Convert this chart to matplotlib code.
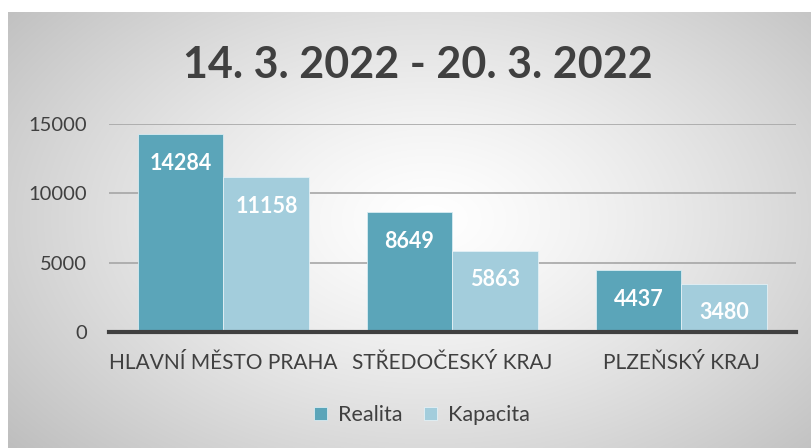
import numpy as np
import matplotlib
matplotlib.use("Agg")
import matplotlib.pyplot as plt

categories = ["HLAVNÍ MĚSTO PRAHA", "STŘEDOČESKÝ KRAJ", "PLZEŇSKÝ KRAJ"]
realita = [14284, 8649, 4437]
kapacita = [11158, 5863, 3480]
series_names = ["Realita", "Kapacita"]
yticks = [0, 5000, 10000, 15000]
title = "14. 3. 2022 - 20. 3. 2022"

W, H = 812, 448
plt.rcParams['font.family'] = ['Lato', 'DejaVu Sans']
fig = plt.figure(figsize=(W / 100, H / 100), dpi=100, facecolor='white')

# gradient background panel
x0, y0 = 8, 12
bg = fig.add_axes([x0 / W, 0, 1 - x0 / W, 1 - y0 / H], zorder=0)
gx = np.linspace(x0, W, 400)
gy = np.linspace(y0, H, 220)
GX, GY = np.meshgrid(gx, gy)
cx, cy, rx, ry = 430, 220, 560, 360
d = np.sqrt(((GX - cx) / rx) ** 2 + ((GY - cy) / ry) ** 2)
d = np.clip(d, 0, 1)
val = 1.0 - 0.26 * d ** 1.3
img = np.dstack([val, val, val])
bg.imshow(img, aspect='auto', extent=[0, 1, 0, 1], interpolation='bilinear')
bg.axis('off')

col_r = '#5ba5b9'
col_k = '#a3cddc'
txt = '#404040'

ax = fig.add_axes([109 / W, (H - 332) / H, 687 / W, 208 / H], zorder=1)
ax.set_facecolor('none')
x = np.arange(len(categories))
w = 0.375
b1 = ax.bar(x - w / 2, realita, width=w, color=col_r, edgecolor='#d8ecf2', linewidth=0.6, zorder=3, label=series_names[0])
b2 = ax.bar(x + w / 2, kapacita, width=w, color=col_k, edgecolor='#e4f1f6', linewidth=0.6, zorder=3, label=series_names[1])
for bars, vals in ((b1, realita), (b2, kapacita)):
    for bar, v in zip(bars, vals):
        ax.annotate(str(v), (bar.get_x() + bar.get_width() / 2, v), xytext=(0, -21),
                    textcoords='offset points', ha='center', va='center',
                    color='white', fontsize=15.5, fontweight='bold', zorder=5)

ax.set_xlim(-0.5, len(categories) - 0.5)
ax.set_ylim(0, 15000)
ax.set_yticks(yticks)
ax.set_yticklabels([str(t) for t in yticks])
ax.set_xticks(x)
ax.set_xticklabels(categories)
ax.tick_params(axis='y', length=0, pad=16, labelsize=14.5, labelcolor=txt)
ax.tick_params(axis='x', length=0, pad=15, labelsize=15, labelcolor=txt)
for s in ['top', 'right', 'left']:
    ax.spines[s].set_visible(False)
ax.spines['bottom'].set_color('#404040')
ax.spines['bottom'].set_linewidth(3)
ax.spines['bottom'].set_zorder(4)
ax.yaxis.grid(True, color='#a6a6a6', linewidth=1.2, zorder=0)
ax.set_axisbelow(True)

fig.text(417.5 / W, 1 - 65 / H, title,
         ha='center', va='center', fontsize=31, fontweight='bold', color=txt)

leg = fig.legend(handles=[b1, b2], labels=series_names, loc='center',
                 bbox_to_anchor=(422 / W, 1 - 415 / H), ncol=2, frameon=False,
                 fontsize=15.5, handlelength=0.6, handleheight=0.6, handletextpad=0.5,
                 columnspacing=1.0, labelcolor=txt)

fig.savefig('out.png', dpi=100, facecolor='white')
